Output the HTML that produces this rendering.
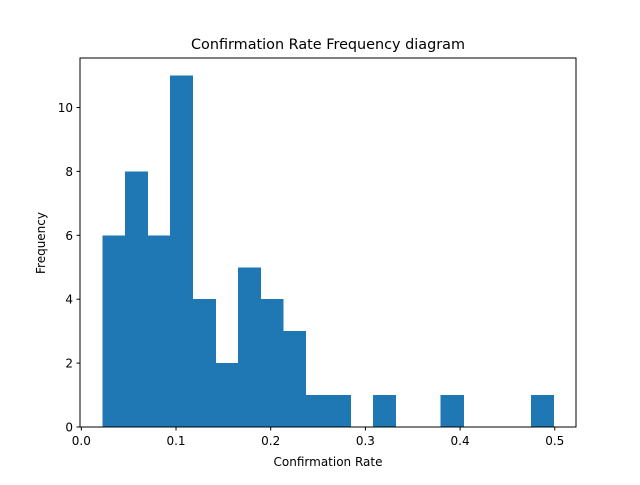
<!DOCTYPE html>
<html><head><meta charset="utf-8"><style>
body{margin:0;background:#fff}
svg{font-family:"DejaVu Sans","Liberation Sans",sans-serif}
</style></head><body>
<svg id="c" width="640" height="480" xmlns="http://www.w3.org/2000/svg">
<rect width="640" height="480" fill="#fff"/>
<text x="328" y="49" font-size="14.4" text-anchor="middle">Confirmation Rate Frequency diagram</text>
<text x="328" y="466" font-size="12" text-anchor="middle">Confirmation Rate</text>
<text transform="translate(45,243) rotate(-90)" font-size="12" text-anchor="middle">Frequency</text>
<g id="bars" shape-rendering="crispEdges"></g><g id="ticks"></g>
<rect x="80" y="58" width="496" height="369" fill="none" stroke="#000" stroke-width="1"/>
</svg>
<script>
const counts=[6,8,6,11,4,2,5,4,3,1,1,0,1,0,0,1,0,0,0,1];
const binLo=0.0224, binHi=0.4986;
const xTicks=[0,0.1,0.2,0.3,0.4,0.5];
const xTickLabels=["0.0","0.1","0.2","0.3","0.4","0.5"];
const yTicks=[0,2,4,6,8,10];
const L=80,R=576,T=58,B=427;
const span=binHi-binLo, xmin=binLo-0.05*span, xmax=binHi+0.05*span;
const ymax=Math.max(...counts)*1.05;
const x=v=>L+(v-xmin)/(xmax-xmin)*(R-L);
const y=v=>B-v/ymax*(B-T);
const ns="http://www.w3.org/2000/svg";
const bars=document.getElementById('bars'), ticks=document.getElementById('ticks');
const w=span/counts.length;
counts.forEach((c,i)=>{if(!c)return;
 const r=document.createElementNS(ns,'rect');
 const x0=x(binLo+i*w),x1=x(binLo+(i+1)*w);
 r.setAttribute('x',x0);r.setAttribute('width',x1-x0+0.5);
 r.setAttribute('y',y(c));r.setAttribute('height',B-y(c));
 r.setAttribute('fill','#1f77b4');
 
 
 bars.appendChild(r);});
xTicks.forEach((t,i)=>{const px=x(t);
 const l=document.createElementNS(ns,'line');
 l.setAttribute('x1',px);l.setAttribute('x2',px);l.setAttribute('y1',B);l.setAttribute('y2',B+3.5);l.setAttribute('stroke','#000');
 
 
 ticks.appendChild(l);
 const s=document.createElementNS(ns,'text');
 s.setAttribute('x',px);s.setAttribute('y',B+18);s.setAttribute('font-size','12');s.setAttribute('text-anchor','middle');
 s.textContent=xTickLabels[i];
 
 
 ticks.appendChild(s);});
yTicks.forEach(t=>{const py=y(t);
 const l=document.createElementNS(ns,'line');
 l.setAttribute('x1',L-3.5);l.setAttribute('x2',L);l.setAttribute('y1',py);l.setAttribute('y2',py);l.setAttribute('stroke','#000');
 
 
 ticks.appendChild(l);
 const s=document.createElementNS(ns,'text');
 s.setAttribute('x',L-7);s.setAttribute('y',py+4.5);s.setAttribute('font-size','12');s.setAttribute('text-anchor','end');
 s.textContent=t;
 
 
 ticks.appendChild(s);});
</script>
</body></html>
